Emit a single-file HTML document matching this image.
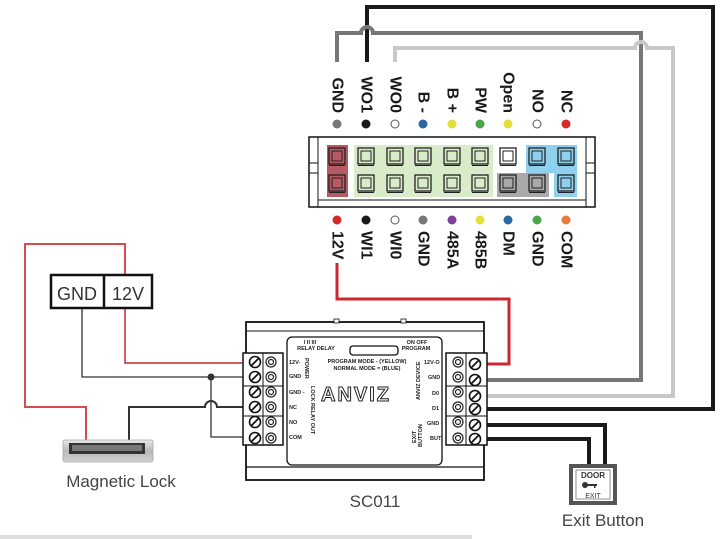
<!DOCTYPE html>
<html><head><meta charset="utf-8"><style>
html,body{margin:0;padding:0;background:#fff;}
svg{display:block;font-family:"Liberation Sans",sans-serif;}
</style></head><body>
<svg width="720" height="539" viewBox="0 0 720 539" xmlns="http://www.w3.org/2000/svg">
<defs>
<linearGradient id="lk" x1="0" y1="0" x2="0" y2="1">
<stop offset="0" stop-color="#e8e8e8"/><stop offset="0.5" stop-color="#b8b8b8"/><stop offset="1" stop-color="#d0d0d0"/>
</linearGradient>
<g id="scr"><circle r="5.5" fill="#fff" stroke="#111" stroke-width="1.6"/><line x1="-3.5" y1="3.5" x2="3.5" y2="-3.5" stroke="#111" stroke-width="1.8"/></g>
<g id="hole"><circle r="5" fill="#fff" stroke="#222" stroke-width="1.2"/><circle r="2.5" fill="none" stroke="#222" stroke-width="1.2"/></g>
<g id="term"><rect x="-8" y="-8" width="16" height="16" fill="none" stroke="#222" stroke-width="1.3"/><rect x="-5" y="-5" width="10" height="10" fill="none" stroke="#222" stroke-width="1"/><line x1="-8" y1="9.5" x2="8" y2="9.5" stroke="#222" stroke-width="1"/></g>
</defs>
<rect x="0" y="535" width="472" height="4" fill="#ddd"/>

<!-- long wires -->
<path d="M367 62 V7 H713 V409 H487" fill="none" stroke="#1a1a1a" stroke-width="4"/>
<path d="M337 62 V33 H361 A6 6 0 0 1 373 33 H641 V380 H487" fill="none" stroke="#777" stroke-width="4"/>
<path d="M395 62 V48 H635 A6 6 0 0 1 647 48 H673 V396 H487" fill="none" stroke="#c8c8c8" stroke-width="4"/>
<path d="M337 263 V299 H509 V364 H487" fill="none" stroke="#c8282e" stroke-width="3"/>
<path d="M487 425 H605 V466" fill="none" stroke="#1a1a1a" stroke-width="4"/>
<path d="M487 439 H589 V466" fill="none" stroke="#1a1a1a" stroke-width="4"/>

<!-- top connector -->
<rect x="309" y="137" width="286" height="70" fill="#fff" stroke="#111" stroke-width="1.5"/>
<line x1="318" y1="137" x2="318" y2="207" stroke="#111"/>
<line x1="586" y1="137" x2="586" y2="207" stroke="#111"/>
<line x1="318" y1="200" x2="586" y2="200" stroke="#111"/>
<line x1="309" y1="163" x2="318" y2="163" stroke="#111"/><line x1="309" y1="173" x2="318" y2="173" stroke="#111"/>
<line x1="586" y1="163" x2="595" y2="163" stroke="#111"/><line x1="586" y1="173" x2="595" y2="173" stroke="#111"/>
<rect x="327" y="145" width="21" height="52" fill="#b85a64"/>
<rect x="354" y="145" width="139" height="52" fill="#d9ecca"/>
<rect x="497" y="173" width="52" height="24" fill="#a9a9a9"/>
<path d="M526 145 H577 V197 H554 V173 H526 Z" fill="#8fd0ef"/>
<g>
<use href="#term" x="337" y="156"/><use href="#term" x="366" y="156"/><use href="#term" x="395" y="156"/><use href="#term" x="423" y="156"/><use href="#term" x="452" y="156"/><use href="#term" x="480" y="156"/><use href="#term" x="508" y="156"/><use href="#term" x="537" y="156"/><use href="#term" x="566" y="156"/>
<use href="#term" x="337" y="183"/><use href="#term" x="366" y="183"/><use href="#term" x="395" y="183"/><use href="#term" x="423" y="183"/><use href="#term" x="452" y="183"/><use href="#term" x="480" y="183"/><use href="#term" x="508" y="183"/><use href="#term" x="537" y="183"/><use href="#term" x="566" y="183"/>
</g>
<!-- dots -->
<g stroke-width="1">
<circle cx="337" cy="124" r="4.5" fill="#777"/><circle cx="366" cy="124" r="4.5" fill="#1a1a1a"/><circle cx="395" cy="124" r="4" fill="#fff" stroke="#555"/><circle cx="423" cy="124" r="4.5" fill="#2a6aa3"/><circle cx="452" cy="124" r="4.5" fill="#e6df3a"/><circle cx="480" cy="124" r="4.5" fill="#4aa84a"/><circle cx="508" cy="124" r="4.5" fill="#e6df3a"/><circle cx="537" cy="124" r="4" fill="#fff" stroke="#555"/><circle cx="566" cy="124" r="4.5" fill="#d42a2a"/>
<circle cx="337" cy="220" r="4.5" fill="#d42a2a"/><circle cx="366" cy="220" r="4.5" fill="#1a1a1a"/><circle cx="395" cy="220" r="4" fill="#fff" stroke="#555"/><circle cx="423" cy="220" r="4.5" fill="#777"/><circle cx="452" cy="220" r="4.5" fill="#7b3fa0"/><circle cx="480" cy="220" r="4.5" fill="#e6df3a"/><circle cx="508" cy="220" r="4.5" fill="#2a6aa3"/><circle cx="537" cy="220" r="4.5" fill="#4aa84a"/><circle cx="566" cy="220" r="4.5" fill="#e87a3a"/>
</g>
<g font-size="16" font-weight="bold" fill="#1a1a1a" dominant-baseline="central">
<text transform="translate(337,113) rotate(90)" text-anchor="end">GND</text>
<text transform="translate(366,113) rotate(90)" text-anchor="end">WO1</text>
<text transform="translate(395,113) rotate(90)" text-anchor="end">WO0</text>
<text transform="translate(423,113) rotate(90)" text-anchor="end">B -</text>
<text transform="translate(452,113) rotate(90)" text-anchor="end">B +</text>
<text transform="translate(480,113) rotate(90)" text-anchor="end">PW</text>
<text transform="translate(508,113) rotate(90)" text-anchor="end">Open</text>
<text transform="translate(537,113) rotate(90)" text-anchor="end">NO</text>
<text transform="translate(566,113) rotate(90)" text-anchor="end">NC</text>
<text transform="translate(337,231) rotate(90)">12V</text>
<text transform="translate(366,231) rotate(90)">WI1</text>
<text transform="translate(395,231) rotate(90)">WI0</text>
<text transform="translate(423,231) rotate(90)">GND</text>
<text transform="translate(452,231) rotate(90)">485A</text>
<text transform="translate(480,231) rotate(90)">485B</text>
<text transform="translate(508,231) rotate(90)">DM</text>
<text transform="translate(537,231) rotate(90)">GND</text>
<text transform="translate(566,231) rotate(90)">COM</text>
</g>

<!-- PSU and left wires -->
<path d="M125 275 V244 H25 V407 H86 V440" fill="none" stroke="#d84a50" stroke-width="2"/>
<path d="M125 308 V363 H244" fill="none" stroke="#c8282e" stroke-width="1.5"/>
<path d="M82 308 V377 H244" fill="none" stroke="#333" stroke-width="1.3"/>
<path d="M211 377 V437 H244" fill="none" stroke="#333" stroke-width="1.3"/>
<circle cx="211" cy="377" r="3.5" fill="#333"/>
<path d="M129 440 V407 H205 A6 6 0 0 1 217 407 H244" fill="none" stroke="#333" stroke-width="2"/>
<rect x="51" y="275" width="101" height="33" fill="#fff" stroke="#111" stroke-width="2.5"/>
<line x1="104" y1="275" x2="104" y2="308" stroke="#111" stroke-width="2.5"/>
<text x="77" y="300" font-size="18" fill="#333" text-anchor="middle">GND</text>
<text x="128" y="300" font-size="18" fill="#333" text-anchor="middle">12V</text>

<!-- magnetic lock -->
<rect x="63" y="440" width="90" height="22" rx="2" fill="url(#lk)" stroke="#aaa" stroke-width="0.8"/>
<rect x="69" y="443" width="76" height="11" fill="#333"/>
<rect x="72" y="445" width="70" height="6" fill="#777"/>
<text x="121" y="487" font-size="17" fill="#444" text-anchor="middle">Magnetic Lock</text>

<!-- SC011 device -->
<rect x="246" y="322" width="238" height="158" fill="#fff" stroke="#111" stroke-width="1.8"/>
<line x1="246" y1="331" x2="484" y2="331" stroke="#111"/>
<line x1="246" y1="467" x2="484" y2="467" stroke="#111" stroke-width="1.3"/>
<rect x="334" y="319" width="5" height="4" fill="#fff" stroke="#111" stroke-width="0.8"/>
<rect x="401" y="319" width="5" height="4" fill="#fff" stroke="#111" stroke-width="0.8"/>
<rect x="287" y="337" width="155" height="128" rx="5" fill="#fff" stroke="#111" stroke-width="1.3"/>
<rect x="350" y="346" width="48" height="9" rx="3" fill="#fff" stroke="#111" stroke-width="1.3"/>
<g font-size="5.5" font-weight="bold" fill="#222">
<text x="310" y="344" text-anchor="middle">I  II  III</text>
<text x="316" y="350" text-anchor="middle">RELAY DELAY</text>
<text x="417" y="344" text-anchor="middle">ON  OFF</text>
<text x="416" y="350" text-anchor="middle">PROGRAM</text>
<text x="367" y="363" text-anchor="middle">PROGRAM MODE - (YELLOW)</text>
<text x="367" y="370" text-anchor="middle">NORMAL MODE = (BLUE)</text>
<text x="289" y="364">12V-</text><text x="289" y="378">GND</text><text x="289" y="394">GND -</text>
<text x="289" y="409">NC</text><text x="289" y="424">NO</text><text x="289" y="439">COM</text>
<text x="424" y="364">12V-O</text><text x="428" y="379">GND</text><text x="432" y="395">D0</text><text x="432" y="410">D1</text>
<text x="427" y="425">GND</text><text x="430" y="440">BUT</text>
<text transform="translate(305,358) rotate(90)">POWER</text>
<text transform="translate(311,386) rotate(90)">LOCK</text>
<text transform="translate(311,403) rotate(90)">RELAY OUT</text>
<text transform="translate(420,400) rotate(-90)">ANVIZ DEVICE</text>
<text transform="translate(416,443) rotate(-90)">EXIT</text>
<text transform="translate(422,447) rotate(-90)">BUTTON</text>
</g>
<text x="356" y="401" font-size="20" font-weight="bold" fill="#fff" stroke="#222" stroke-width="1" text-anchor="middle" letter-spacing="2">ANVIZ</text>
<!-- left terminal block -->
<rect x="243" y="353" width="40" height="92" fill="#fff" stroke="#111" stroke-width="1.5"/>
<line x1="263" y1="353" x2="263" y2="445" stroke="#111"/>
<line x1="243" y1="386" x2="283" y2="386" stroke="#111"/><line x1="243" y1="416" x2="283" y2="416" stroke="#111"/>
<use href="#scr" x="255" y="362"/><use href="#scr" x="255" y="377"/><use href="#scr" x="255" y="392"/><use href="#scr" x="255" y="407"/><use href="#scr" x="255" y="422"/><use href="#scr" x="255" y="438"/>
<use href="#hole" x="271" y="362"/><use href="#hole" x="271" y="377"/><use href="#hole" x="271" y="392"/><use href="#hole" x="271" y="407"/><use href="#hole" x="271" y="422"/><use href="#hole" x="271" y="438"/>
<!-- right terminal block -->
<rect x="446" y="353" width="41" height="92" fill="#fff" stroke="#111" stroke-width="1.5"/>
<line x1="466" y1="353" x2="466" y2="445" stroke="#111"/>
<line x1="446" y1="386" x2="487" y2="386" stroke="#111"/><line x1="446" y1="416" x2="487" y2="416" stroke="#111"/>
<use href="#hole" x="458" y="362"/><use href="#hole" x="458" y="377"/><use href="#hole" x="458" y="392"/><use href="#hole" x="458" y="407"/><use href="#hole" x="458" y="422"/><use href="#hole" x="458" y="438"/>
<use href="#scr" x="475" y="364"/><use href="#scr" x="475" y="380"/><use href="#scr" x="475" y="396"/><use href="#scr" x="475" y="409"/><use href="#scr" x="475" y="425"/><use href="#scr" x="475" y="439"/>
<text x="375" y="507" font-size="17" fill="#444" text-anchor="middle">SC011</text>

<!-- exit button -->
<rect x="571" y="466" width="44" height="37" fill="#fff" stroke="#555" stroke-width="4"/>
<rect x="576" y="470" width="34" height="29" fill="none" stroke="#777" stroke-width="0.8"/>
<text x="593" y="478" font-size="8" font-weight="bold" fill="#333" text-anchor="middle">DOOR</text>
<circle cx="585" cy="485" r="3" fill="#333"/><rect x="587" y="484" width="10" height="2" fill="#333"/><rect x="594" y="485" width="1.5" height="3" fill="#333"/>
<text x="593" y="498" font-size="7" fill="#333" text-anchor="middle">EXIT</text>
<text x="603" y="526" font-size="17" fill="#444" text-anchor="middle">Exit Button</text>
</svg>
</body></html>
